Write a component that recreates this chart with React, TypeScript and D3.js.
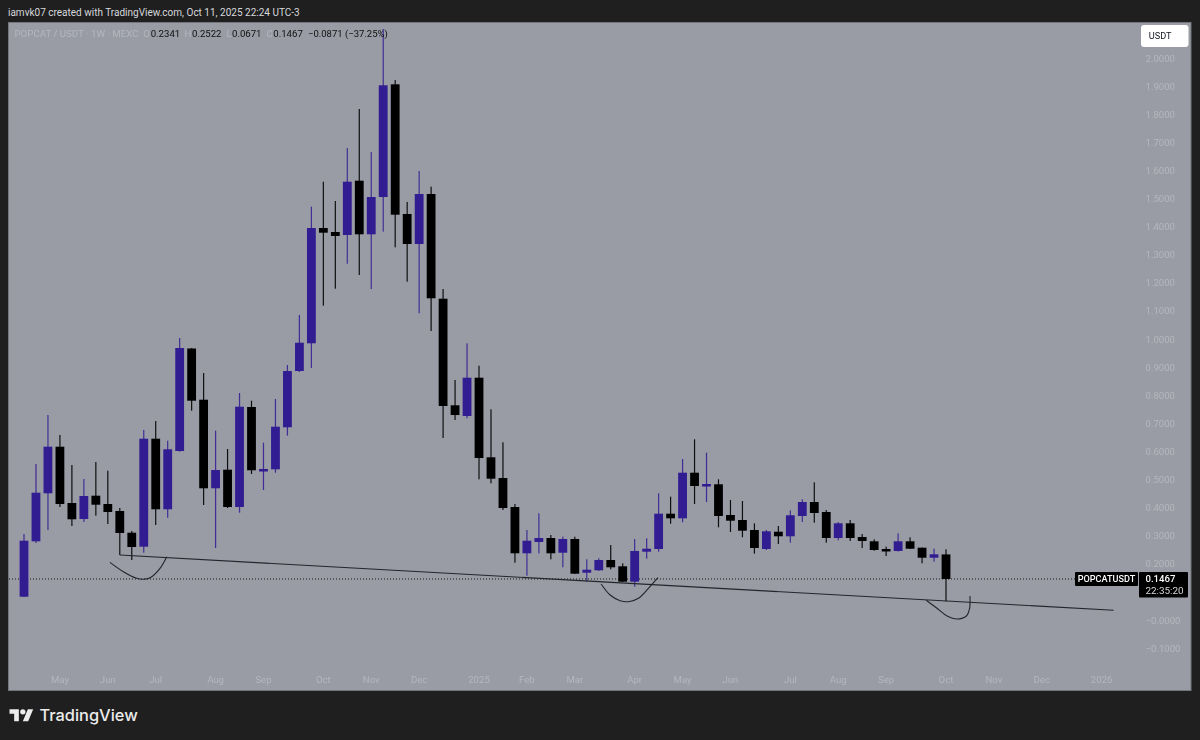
import React from "react";
import * as d3 from "d3";

const opens = [0.0836,0.2808,0.4516,0.6174,0.4171,0.3601,0.4431,0.4135,0.3886,0.3114,0.2616,0.6459,0.3947,0.6021,0.9669,0.7847,0.4694,0.5356,0.4028,0.7587,0.5335,0.537,0.6865,0.8868,0.9854,1.3957,1.3815,1.3708,1.5641,1.3733,1.506,1.9071,1.4456,1.3388,1.5167,1.1441,0.7648,0.7267,0.863,0.5797,0.506,0.4028,0.2381,0.2783,0.2925,0.2402,0.289,0.169,0.1776,0.2142,0.1918,0.137,0.2438,0.2534,0.379,0.3626,0.5249,0.4786,0.4836,0.3744,0.3566,0.321,0.2534,0.3149,0.2986,0.3708,0.4206,0.3851,0.2925,0.3448,0.2961,0.2808,0.2534,0.2463,0.2808,0.258,0.2224,0.2341];
const closes = [0.2829,0.4537,0.6174,0.4135,0.3591,0.442,0.411,0.3851,0.3103,0.2605,0.6459,0.3947,0.6082,0.9687,0.7811,0.4694,0.5345,0.4028,0.7598,0.5335,0.5381,0.6886,0.8868,0.9875,1.3957,1.379,1.3673,1.5605,1.3733,1.506,1.9036,1.4431,1.3388,1.5167,1.1456,0.7623,0.7302,0.863,0.5772,0.5036,0.3993,0.2381,0.2829,0.2925,0.2381,0.289,0.1655,0.1797,0.2142,0.1883,0.137,0.2463,0.2544,0.379,0.3626,0.5249,0.4776,0.4847,0.3708,0.3541,0.3185,0.2569,0.3164,0.2986,0.3733,0.4206,0.3815,0.2925,0.3448,0.2925,0.2819,0.2498,0.2488,0.2808,0.2544,0.2224,0.2345,0.1467];
const highs = [0.3068,0.5559,0.7302,0.6591,0.5523,0.5025,0.563,0.532,0.3993,0.3174,0.6769,0.7089,0.6388,1.0043,0.9687,0.8797,0.6744,0.6093,0.8085,0.7811,0.6317,0.7872,0.9082,1.0861,1.4715,1.5605,1.4918,1.6804,1.8192,1.6662,2.1039,1.9224,1.4883,1.5986,1.5427,1.1786,0.8548,0.9854,0.9057,0.7505,0.6331,0.4135,0.321,0.3804,0.3032,0.2972,0.2972,0.2167,0.2203,0.2676,0.2025,0.289,0.2915,0.4516,0.4395,0.5737,0.6438,0.5961,0.5014,0.4278,0.4242,0.3448,0.321,0.3352,0.3911,0.4302,0.4907,0.3922,0.3495,0.3566,0.3068,0.2879,0.2616,0.3093,0.295,0.2587,0.2544,0.2522];
const lows = [0.0826,0.2747,0.321,0.4028,0.3352,0.3495,0.3719,0.3423,0.232,0.2142,0.2402,0.3388,0.3648,0.5996,0.7456,0.41,0.2569,0.3993,0.3826,0.5203,0.4633,0.5249,0.6566,0.8833,0.8975,1.1192,1.1797,1.2687,1.2285,1.1786,1.3826,1.327,1.2046,1.0922,1.0292,0.6484,0.7125,0.7185,0.5014,0.4872,0.3922,0.2046,0.1584,0.2381,0.2167,0.1883,0.1644,0.137,0.1751,0.1811,0.1359,0.1192,0.2189,0.2438,0.3434,0.3484,0.4135,0.4206,0.3306,0.3139,0.295,0.2367,0.2498,0.2712,0.2758,0.3495,0.347,0.2758,0.2843,0.2819,0.2569,0.2473,0.2285,0.2445,0.2534,0.2025,0.2082,0.0671];

const priceTicks = [2.0,1.9,1.8,1.7,1.6,1.5,1.4,1.3,1.2,1.1,1.0,0.9,0.8,0.7,0.6,0.5,0.4,0.3,0.2,0,-0.1];
const timeLabels = ["May","Jun","Jul","Aug","Sep","Oct","Nov","Dec","2025","Feb","Mar","Apr","May","Jun","Jul","Aug","Sep","Oct","Nov","Dec","2026"];
const timeIndex = [3,7,11,16,20,25,29,33,38,42,46,51,55,59,64,68,72,77,81,85,90];

const lastPrice = 0.1467;
const trendIdx = [8,91];
const trendPrice = [0.232,0.0352];
const arc1Idx = [7.18,8.3,9.42,9.97,10.53,11.36,11.92];
const arc1Price = [0.206,0.1726,0.1491,0.1456,0.1512,0.1847,0.226];
const arc2Idx = [48.2,48.95,49.79,50.48,51.32,52.15,52.94];
const arc2Price = [0.1288,0.0897,0.0694,0.0658,0.0779,0.1135,0.1512];
const arc3Idx = [75.35,76.25,77.09,77.92,78.7,78.97,79.0];
const arc3Price = [0.0708,0.0423,0.0149,0.0043,0.0149,0.0423,0.0861];

const BLUE = "#311b92";
const BLACK = "#000000";
const BG = "#1f1f1f";
const PANEL = "#999ca5";
const AXIS = "#b4b7be";
const FONT = "Roboto, 'Liberation Sans', sans-serif";

const x = d3.scaleLinear().domain([0, 77]).range([24, 946]);
const y = d3.scaleLinear().domain([-0.1, 2.0]).range([648.3, 58.2]);

function fmt(v: number) {
  if (v === 0) return "\u22120.0000";
  return (v < 0 ? "\u2212" : "") + Math.abs(v).toFixed(4);
}

const curve = d3
  .line<[number, number]>()
  .x((d) => x(d[0]))
  .y((d) => y(d[1]))
  .curve(d3.curveCatmullRom.alpha(0.5));

function arcPath(a: number[], b: number[]) {
  return curve(a.map((v, i) => [v, b[i]] as [number, number])) || "";
}

const legendValues = [
  { letter: "O", lx: 143.2, value: "0.2341", vx: 150.7 },
  { letter: "H", lx: 184.6, value: "0.2522", vx: 192 },
  { letter: "L", lx: 226.6, value: "0.0671", vx: 232 },
  { letter: "C", lx: 266.4, value: "0.1467", vx: 273.3 },
];

export default function App() {
  const py = y(lastPrice);
  return (
    <svg
      width={1200}
      height={740}
      viewBox="0 0 1200 740"
      style={{ position: "absolute", left: 0, top: 0, display: "block" }}
      fontFamily={FONT}
    >
      <defs>
        <filter id="soft" x="-2%" y="-2%" width="104%" height="104%">
          <feGaussianBlur stdDeviation="0.35" />
        </filter>
      </defs>
      <rect width={1200} height={740} fill={BG} />
      <text x={8} y={15.6} fontSize={10} fill="#d6d8dc">
        iamvk07 created with TradingView.com, Oct 11, 2025 22:24 UTC-3
      </text>
      <rect x={8.5} y={22.5} width={1182.5} height={668} fill={PANEL} stroke="#74767b" strokeWidth={1} />

      <g filter="url(#soft)">
        {priceTicks.map((t) => (
          <text key={t} x={1145.5} y={y(t)} dy="0.35em" fontSize={9.6} fill={AXIS}>
            {fmt(t)}
          </text>
        ))}
        {timeLabels.map((l, i) => (
          <text key={i} x={x(timeIndex[i])} y={679.5} dy="0.35em" textAnchor="middle" fontSize={9.6} fill={AXIS}>
            {l}
          </text>
        ))}

        <line x1={9} x2={1075} y1={py} y2={py} stroke="#101014" strokeWidth={1} strokeDasharray="1 2" />

        {opens.map((o, i) => {
          const c = closes[i];
          const color = c >= o ? BLUE : BLACK;
          const top = y(Math.max(o, c));
          const bottom = y(Math.min(o, c));
          const cx = x(i);
          return (
            <g key={i} fill={color}>
              <rect x={cx - 0.6} width={1.2} y={y(highs[i])} height={y(lows[i]) - y(highs[i])} opacity={color === BLUE ? 0.85 : 0.9} />
              <rect x={cx - 4.4} width={8.8} y={top} height={Math.max(bottom - top, 2.5)} />
            </g>
          );
        })}

        <line
          x1={x(trendIdx[0])}
          x2={x(trendIdx[1])}
          y1={y(trendPrice[0])}
          y2={y(trendPrice[1])}
          stroke="#23252c"
          strokeWidth={1.1}
        />
        <g fill="none" stroke="#23252c" strokeWidth={1.1}>
          <path d={arcPath(arc1Idx, arc1Price)} />
          <path d={arcPath(arc2Idx, arc2Price)} />
          <path d={arcPath(arc3Idx, arc3Price)} />
        </g>

        <text x={14.5} y={37.4} fontSize={9.7} fill="#b4b7be">
          POPCAT / USDT · 1W · MEXC
        </text>
        {legendValues.map((d) => (
          <g key={d.letter} fontSize={9.6}>
            <text x={d.lx} y={37.4} fill="#b4b7be">{d.letter}</text>
            <text x={d.vx} y={37.4} fill="#111111">{d.value}</text>
          </g>
        ))}
        <text x={308} y={37.4} fontSize={9.5} fill="#111111">
          {"\u22120.0871 (\u221237.25%)"}
        </text>
      </g>

      <rect x={1141} y={25} width={47.5} height={22} rx={3} fill="#ffffff" />
      <text x={1148.8} y={36} dy="0.35em" fontSize={9.2} fill="#131722">USDT</text>

      <rect x={1075} y={572} width={63} height={14} fill="#000000" rx={1} />
      <text x={1106.5} y={579} dy="0.35em" textAnchor="middle" fontSize={9.1} fontWeight={500} fill="#ffffff">POPCATUSDT</text>
      <rect x={1139} y={572} width={49} height={25.5} fill="#000000" rx={1} />
      <text x={1145.5} y={579} dy="0.35em" fontSize={9.6} fontWeight={500} fill="#ffffff">0.1467</text>
      <text x={1145.5} y={591} dy="0.35em" fontSize={9.9} fill="#d8d8d8">22:35:20</text>

      <g transform="translate(9.5 706.5) scale(0.667)" fill="#ececec">
        <path d="M14 22H7V11H0V4h14v18zM28 22h-8l7.5-18h8L28 22z" />
        <circle cx={20} cy={8} r={4} />
      </g>
      <text x={39.5} y={721} fontSize={16.4} fontWeight={500} fontFamily="Inter, Roboto, sans-serif" fill="#ececec">
        TradingView
      </text>
    </svg>
  );
}
